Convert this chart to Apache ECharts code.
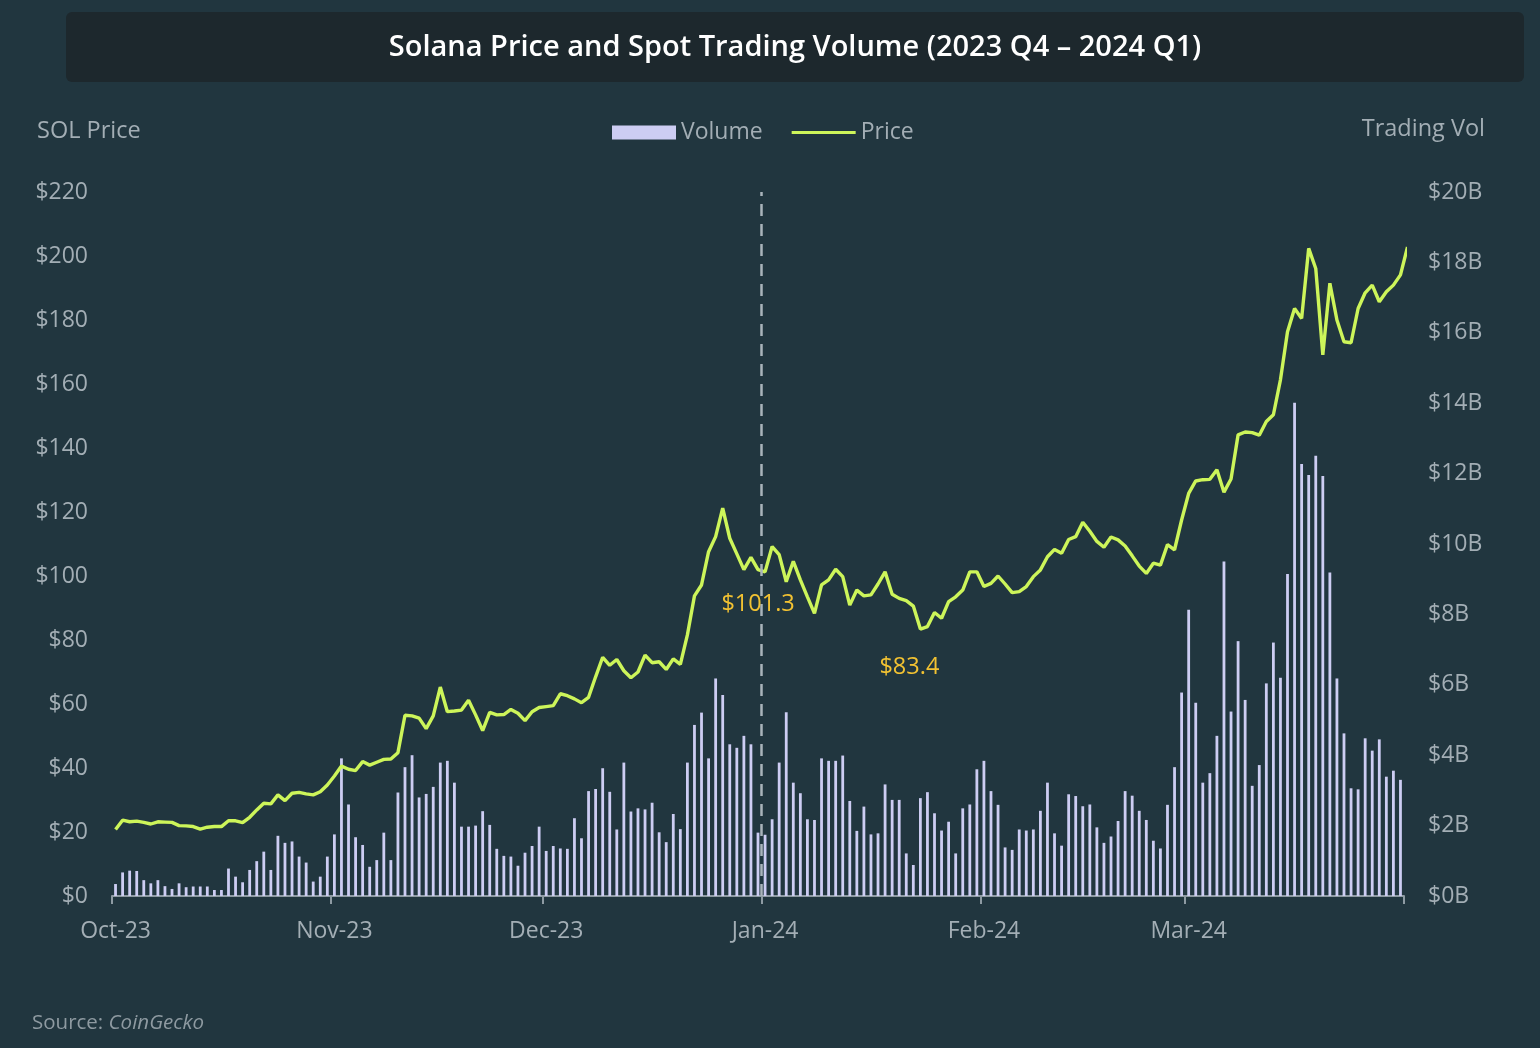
<!DOCTYPE html>
<html><head><meta charset="utf-8">
<script src="https://cdn.jsdelivr.net/npm/echarts@6/dist/echarts.min.js"></script>
<style>html,body{margin:0;padding:0;background:#21363f;}#c{width:1540px;height:1048px;}</style>
</head><body><div id="c"></div>
<script>
// Daily data starting 2023-10-01 (one value per day)
const startDay = [2023, 9, 1];
const volumeB = [
0.34,0.67,0.72,0.71,0.45,0.36,0.45,0.28,0.2,0.36,0.25,0.27,0.27,0.27,0.17,0.17,0.78,0.55,0.39,0.74,
0.99,1.26,0.74,1.71,1.51,1.55,1.12,0.95,0.41,0.55,1.12,1.75,3.91,2.6,1.67,1.45,0.83,1.02,1.8,1.02,
2.94,3.66,4.0,2.8,2.9,3.1,3.79,3.84,3.22,1.97,1.97,2.0,2.41,2.02,1.34,1.14,1.12,0.86,1.23,1.42,
1.97,1.28,1.42,1.35,1.34,2.21,1.64,2.98,3.04,3.63,2.96,1.89,3.79,2.4,2.49,2.46,2.65,1.81,1.53,2.33,
1.9,3.79,4.86,5.21,3.91,6.18,5.71,4.31,4.21,4.55,4.31,1.8,1.74,2.18,3.79,5.22,3.22,2.92,2.18,2.16,
3.91,3.84,3.84,3.99,2.7,1.85,2.54,1.75,1.78,3.17,2.73,2.73,1.21,0.88,2.78,2.95,2.35,1.86,2.11,1.21,
2.49,2.6,3.6,3.84,2.98,2.59,1.38,1.31,1.89,1.86,1.89,2.42,3.22,1.78,1.43,2.89,2.84,2.55,2.6,1.95,
1.51,1.69,2.13,2.98,2.85,2.42,2.16,1.57,1.35,2.59,3.66,5.78,8.13,5.49,3.22,3.49,4.55,9.5,5.24,7.24,
5.57,3.13,3.72,6.04,7.2,6.2,9.15,14.01,12.27,11.96,12.51,11.93,9.19,6.18,4.62,3.06,3.03,4.48,4.13,4.45,
3.39,3.56,3.3
];
const priceUSD = [
20.8,23.7,23.2,23.4,23.0,22.5,23.2,23.1,23.0,22.0,21.9,21.7,20.9,21.5,21.7,21.7,23.5,23.5,22.9,24.6,
26.9,29.0,28.8,31.6,29.8,32.1,32.4,31.9,31.6,32.6,34.7,37.5,40.6,39.6,39.2,42.0,40.9,41.8,42.7,42.8,
44.8,56.5,56.3,55.6,52.3,56.3,65.3,57.6,57.8,58.1,61.2,56.6,51.7,57.4,56.6,56.7,58.3,57.1,54.8,57.6,
58.9,59.2,59.5,63.2,62.6,61.6,60.4,62.1,68.5,74.6,72.1,73.9,70.4,68.2,70.0,75.3,72.9,73.2,70.8,74.1,
72.4,81.6,93.8,97.2,107.6,112.3,121.2,111.8,106.9,102.0,105.8,102.0,101.3,109.2,106.7,98.2,104.6,98.8,93.5,88.3,
97.2,98.8,102.1,99.8,90.9,95.6,93.8,94.1,97.5,101.3,94.3,93.0,92.3,90.6,83.4,84.2,88.6,86.8,92.0,93.5,
95.6,101.3,101.3,96.7,97.7,100.0,97.5,94.8,95.1,96.7,99.8,101.9,106.0,108.3,107.1,111.4,112.3,116.8,114.0,110.8,
109.0,112.2,111.3,109.4,106.3,103.1,100.8,104.0,103.4,109.8,108.2,117.5,125.8,129.7,130.1,130.2,133.2,126.2,130.3,144.1,
145.0,144.8,144.0,148.3,150.4,161.3,176.3,183.6,180.5,202.4,196.1,169.1,191.5,180.0,173.2,172.9,183.6,188.5,190.9,185.7,
188.8,190.9,194.1,202.8
];
const monthLabels = ['Oct-23','Nov-23','Dec-23','Jan-24','Feb-24','Mar-24'];
const monthStarts = [[2023,9,1],[2023,10,1],[2023,11,1],[2024,0,1],[2024,1,1],[2024,2,1],[2024,3,1]];
const dividerDate = [2024,0,1];
const annotationDays = [92, 114, 183];
const annotationValues = [101.3, 83.4, 202.8];
const priceTicks = [0,20,40,60,80,100,120,140,160,180,200,220];
const volumeTicks = [0,2,4,6,8,10,12,14,16,18,20];

const DAY = 86400000;
function ts(a){ return Date.UTC(a[0], a[1], a[2]); }
function dayIndex(a){ return Math.round((ts(a) - ts(startDay)) / DAY); }
// each day's mark sits in the middle of its day slot
function dayX(i){ return i + 0.5; }
const monthX = monthStarts.map(dayIndex);
const monthLabelX = monthX.slice(0, monthLabels.length).map(dayX);

const grey = '#a3aeb5';
const font = '"Open Sans", "Noto Sans", sans-serif';
const annOffsets = [[-7, 32], [-11, 38], [-12, -27]];

const chart = echarts.init(document.getElementById('c'), null, {renderer: 'canvas'});
chart.setOption({
  backgroundColor: '#21363f',
  animation: false,
  textStyle: {fontFamily: font},
  graphic: [
    {type: 'rect', shape: {x: 66, y: 12, width: 1458, height: 70, r: 6}, style: {fill: '#1d282d'}, z: 0},
    {type: 'text', x: 795, y: 48, style: {text: 'Solana Price and Spot Trading Volume (2023 Q4 \u2013 2024 Q1)', fill: '#ffffff', font: '600 29px ' + font, textAlign: 'center', textVerticalAlign: 'middle'}},
    {type: 'text', x: 37, y: 131, style: {text: 'SOL Price', fill: grey, font: '23.5px ' + font, textAlign: 'left', textVerticalAlign: 'middle'}},
    {type: 'text', x: 1485, y: 129, style: {text: 'Trading Vol', fill: grey, font: '23.5px ' + font, textAlign: 'right', textVerticalAlign: 'middle'}},
    {type: 'text', x: 32, y: 1023, style: {
      text: '{a|Source: }{b|CoinGecko}', textVerticalAlign: 'middle',
      rich: {a: {fill: '#8e9aa1', font: '20.5px ' + font}, b: {fill: '#8e9aa1', font: 'italic 20.5px ' + font}}
    }}
  ],
  legend: {
    left: 607, top: 116,
    itemWidth: 64, itemHeight: 14, itemGap: 29,
    textStyle: {color: grey, fontSize: 23, fontFamily: font},
    data: [{name: 'Volume', icon: 'rect'}, {name: 'Price', icon: 'path://M0 0H64V3.2H0Z'}]
  },
  grid: {left: 112, right: 136, top: 192, bottom: 152, containLabel: false},
  xAxis: {
    type: 'value',
    min: monthX[0], max: monthX[monthX.length - 1],
    axisLine: {lineStyle: {color: '#8e9ba3', width: 2}},
    axisTick: {show: true, length: 8, lineStyle: {color: '#8e9ba3', width: 2}, customValues: monthX},
    axisLabel: {
      color: grey, fontSize: 23, margin: 24, fontFamily: font,
      customValues: monthLabelX,
      formatter: function (v) { const k = monthLabelX.indexOf(v); return k >= 0 ? monthLabels[k] : ''; }
    },
    splitLine: {show: false}
  },
  yAxis: [
    {type: 'value', min: priceTicks[0], max: priceTicks[priceTicks.length - 1], interval: 20,
     axisLine: {show: false}, axisTick: {show: false}, splitLine: {show: false},
     axisLabel: {color: grey, fontSize: 23, margin: 24, fontFamily: font, formatter: '${value}'}},
    {type: 'value', min: volumeTicks[0], max: volumeTicks[volumeTicks.length - 1], interval: 2,
     axisLine: {show: false}, axisTick: {show: false}, splitLine: {show: false},
     axisLabel: {color: grey, fontSize: 23, margin: 24, fontFamily: font, formatter: '${value}B'}}
  ],
  series: [
    {
      name: 'Volume', type: 'bar', yAxisIndex: 1, barWidth: 2.8,
      itemStyle: {color: '#cdcdf3'},
      data: volumeB.map((v, i) => [dayX(i), v]),
      markLine: {
        silent: true, symbol: 'none', label: {show: false},
        lineStyle: {type: [12, 8], color: '#a9b4bb', width: 2.5},
        data: [{xAxis: dayIndex(dividerDate)}]
      },
      z: 2
    },
    {
      name: 'Price', type: 'line', yAxisIndex: 0, showSymbol: false, symbol: 'none', clip: false,
      lineStyle: {color: '#cdf55a', width: 3.4}, itemStyle: {color: '#cdf55a'},
      data: priceUSD.map((v, i) => [dayX(i), v]),
      markPoint: {
        symbol: 'circle', symbolSize: 0, silent: true,
        data: annotationDays.map((d, k) => ({
          name: '$' + annotationValues[k].toFixed(1),
          coord: [dayX(d), annotationValues[k]],
          label: {offset: annOffsets[k]}
        })),
        label: {show: true, formatter: '{b}', color: '#f2c232', fontSize: 23.5, fontFamily: font, position: 'inside'}
      },
      z: 3
    }
  ]
});
</script></body></html>
